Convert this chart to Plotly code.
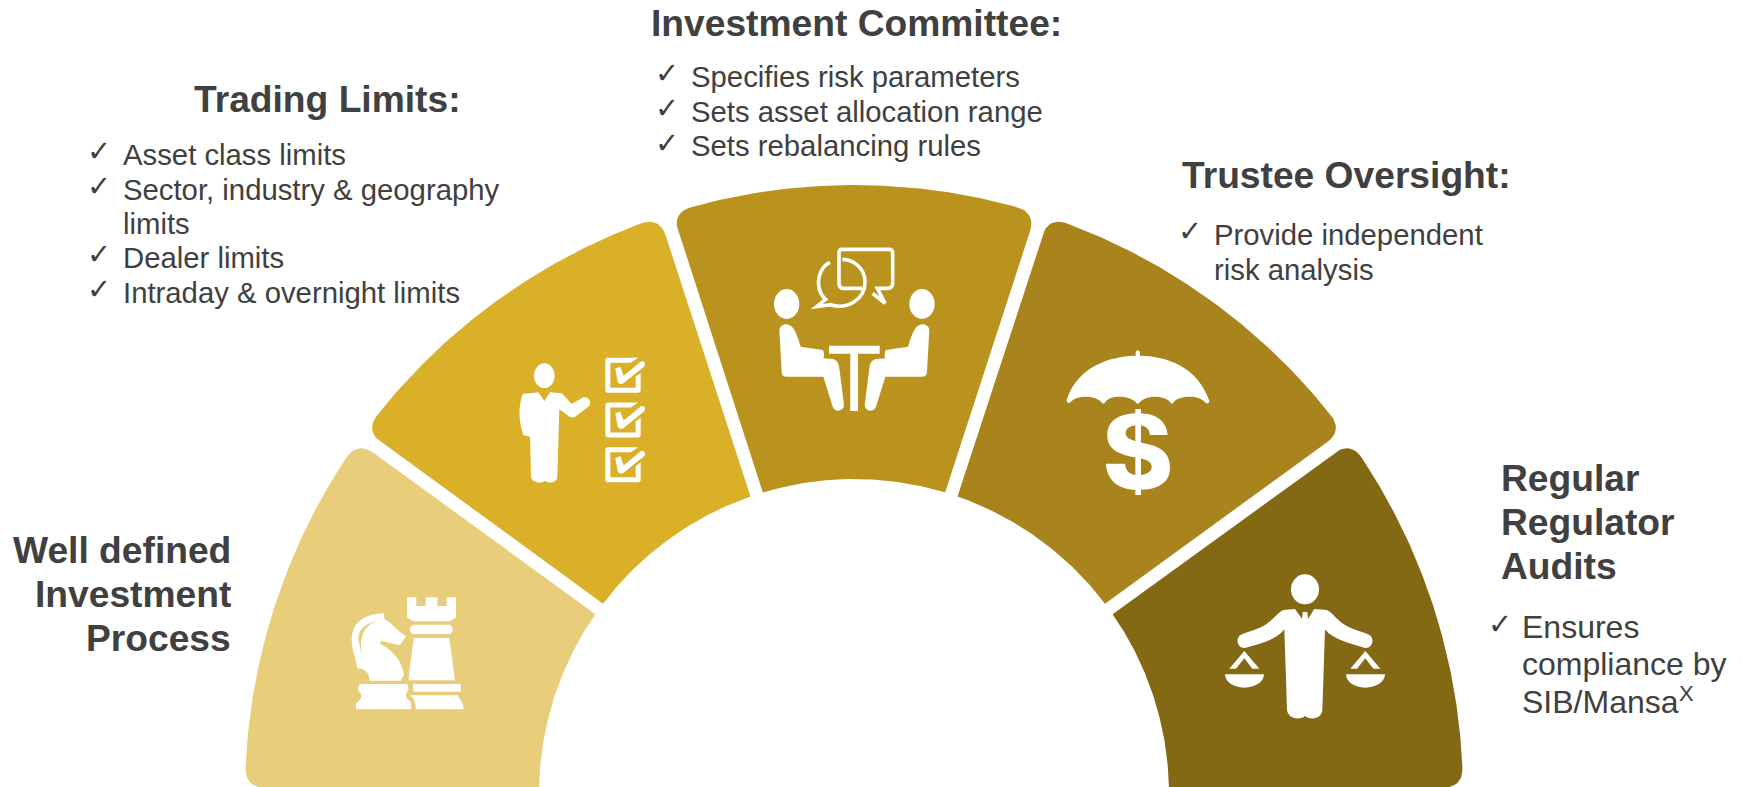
import math, re
import plotly.graph_objects as go

# ---- content -------------------------------------------------------------
categories = ["Well defined Investment Process", "Trading Limits", "Investment Committee",
              "Trustee Oversight", "Regular Regulator Audits"]
segment_shares = [1, 1, 1, 1, 1]
segment_colors = ["#E8CD7A", "#DAB028", "#B9931E", "#A9841D", "#846915"]

titles = ["Investment Committee:", "Trading Limits:", "Trustee Oversight:",
          "Regular", "Regulator", "Audits", "Well defined", "Investment", "Process"]
bullets = ["Specifies risk parameters", "Sets asset allocation range", "Sets rebalancing rules",
           "Asset class limits", "Sector, industry & geography", "limits", "Dealer limits",
           "Intraday & overnight limits", "Provide independent", "risk analysis"]
audit_bullets = ["Ensures", "compliance by", "SIB/Mansa"]
audit_note = "X"
check_mark = "✓"

# ---- layout of texts (separate from the content) --------------------------
title_pos = [(650, 23, "left"), (193, 99, "left"), (1181, 175, "left"),
             (1500, 478, "left"), (1500, 522, "left"), (1500, 566, "left"),
             (232, 550, "right"), (232, 594, "right"), (232, 638, "right")]
bullet_pos = [(690, 76), (690, 111), (690, 145),
              (122, 154), (122, 189), (122, 223), (122, 257), (122, 292),
              (1213, 234), (1213, 269)]
audit_pos = [(1521, 627), (1521, 664), (1521, 702)]
note_pos = (1678, 693)
check_pos = [(654, 73), (654, 108), (654, 143),
             (86, 151), (86, 186), (86, 254), (86, 289),
             (1177, 231), (1487, 624)]

TEXT = "#404040"
CX, CY, R_OUT, R_IN, GAP, CORNER = 854, 794, 609, 315, 6.5, 20


def segment_outline(a_left, a_right):
    da_out = math.degrees(math.asin(GAP / R_OUT))
    da_in = math.degrees(math.asin(GAP / R_IN))
    dc = math.degrees(CORNER / R_OUT)
    def pol(r, a):
        return CX + r * math.cos(math.radians(a)), CY - r * math.sin(math.radians(a))
    def quad(p0, c, p1, n=12):
        return [((1-t)**2*p0[0] + 2*t*(1-t)*c[0] + t*t*p1[0],
                 (1-t)**2*p0[1] + 2*t*(1-t)*c[1] + t*t*p1[1]) for t in (i/n for i in range(n+1))]
    aL, aR = a_left - da_out, a_right + da_out
    pts = [pol(R_IN, a_left - da_in)]
    edge_l = pol(R_OUT - CORNER, a_left - math.degrees(math.asin(GAP / (R_OUT - CORNER))))
    pts += quad(edge_l, pol(R_OUT, aL), pol(R_OUT, aL - dc))
    n = 80
    pts += [pol(R_OUT, aL - dc + (aR + dc - aL + dc) * i / n) for i in range(n + 1)]
    edge_r = pol(R_OUT - CORNER, a_right + math.degrees(math.asin(GAP / (R_OUT - CORNER))))
    pts += quad(pol(R_OUT, aR + dc), pol(R_OUT, aR), edge_r)
    pts.append(pol(R_IN, a_right + da_in))
    pts += [pol(R_IN, a_right + da_in + (a_left - da_in - a_right - da_in) * i / n) for i in range(n + 1)]
    return pts


fig = go.Figure()
total = sum(segment_shares)
a = 180.0
for name, share, color in zip(categories, segment_shares, segment_colors):
    a2 = a - 180.0 * share / total
    p = segment_outline(a, a2)
    fig.add_trace(go.Scatter(x=[q[0] for q in p], y=[q[1] for q in p], mode="lines", fill="toself",
                             fillcolor=color, line=dict(width=0, color=color), name=name,
                             hoverinfo="name", showlegend=False))
    a = a2


# ---- icons: paths traced in 3x crop coordinates, mapped to the page ---------
def tr(path, ox, oy, mirror=None, dx=0, dy=0):
    nums = iter(range(10**6))
    def f(m):
        i = next(nums)
        v = float(m.group())
        if i % 2 == 0:
            if mirror is not None:
                v = mirror - v
            return f"{ox + (v + dx) / 3:.2f}"
        return f"{oy + (v + dy) / 3:.2f}"
    return re.sub(r"-?\d+\.?\d*", f, path)


shapes = []
def solid(path, ox, oy, **kw):
    shapes.append(dict(type="path", path=tr(path, ox, oy, **kw), xref="x", yref="y",
                       fillcolor="white", line=dict(width=0), layer="above"))
def stroke(path, ox, oy, w=3.6):
    shapes.append(dict(type="path", path=tr(path, ox, oy), xref="x", yref="y",
                       fillcolor="rgba(0,0,0,0)", line=dict(width=w, color="white"), layer="above"))
def blob(cx, cy, rx, ry, ox, oy):
    shapes.append(dict(type="circle", xref="x", yref="y", x0=ox + (cx - rx) / 3, x1=ox + (cx + rx) / 3,
                       y0=oy + (cy - ry) / 3, y1=oy + (cy + ry) / 3, fillcolor="white",
                       line=dict(width=0), layer="above"))

# chess pieces
O = (220, 420)
solid("M 412 745 C 410 720 395 690 395 660 C 395 610 430 582 492 580 L 493 598 C 515 605 525 630 558 648 "
      "L 540 676 L 482 662 L 482 672 C 525 695 545 725 552 765 L 542 782 L 448 782 C 450 760 435 745 412 745 Z "
      "M 470 603 C 430 610 410 640 416 660 L 428 722 C 422 680 412 625 470 603 Z", *O)
solid("M 418 792 L 562 792 L 566 810 C 555 820 555 832 566 840 C 574 845 574 860 574 868 L 408 868 L 408 852 "
      "C 410 845 424 840 424 828 C 424 818 414 818 414 805 Z", *O)
solid("M 561 532 L 589 532 L 589 558 L 617 558 L 617 532 L 652 532 L 652 558 L 680 558 L 680 532 L 708 532 "
      "L 708 592 L 690 604 L 580 604 L 561 592 Z", *O)
solid("M 582 614 L 686 614 C 702 614 702 642 686 642 L 582 642 C 566 642 566 614 582 614 Z", *O)
solid("M 581 654 L 688 654 L 705 781 L 565 781 Z", *O)
solid("M 578 792 L 722 792 L 722 815 L 581 815 Z", *O)
solid("M 570 826 L 714 826 C 716 840 730 840 731 868 L 587 868 C 587 850 585 835 570 826 Z", *O)

# presenter with check boxes
O = (480, 200)
blob(193, 527, 31, 37, *O)
solid("M 128 582 L 175 577 L 193 603 L 210 577 L 245 580 L 275 612 L 310 592 C 325 588 335 605 328 618 "
      "L 285 650 C 275 655 265 650 262 645 L 238 628 L 232 830 C 232 848 205 852 195 842 "
      "C 185 852 155 848 153 830 L 150 710 L 130 705 C 115 660 115 620 128 582 Z", *O)
for off in (0, 134.5, 269):
    solid("M 381 473 L 475 473 L 452 488 L 391 488 L 391 563 L 467 563 L 467 530 L 482 518 L 482 573 "
          "L 477 578 L 381 578 L 376 573 L 376 478 Z", *O, dy=off)
    solid("M 406 505 L 421 500 L 431 527 L 482 485 C 492 480 500 492 492 500 L 430 550 "
          "C 422 555 415 550 413 545 Z", *O, dy=off)

# meeting
blob(920, 312, 38, 45, *O)
blob(1326, 312, 38, 45, *O)
body = ("M 898 390 C 900 372 925 365 940 385 C 950 400 955 420 962 440 L 1028 450 C 1033 455 1033 470 1030 475 "
        "L 1060 477 C 1072 482 1076 490 1078 505 L 1092 615 C 1090 635 1065 638 1058 620 L 1030 530 L 920 530 "
        "C 910 530 905 525 905 515 Z")
solid(body, *O)
solid(body, *O, mirror=2246)
solid("M 1047 437 L 1199 437 L 1199 461 L 1134 461 L 1134 633 L 1111 633 L 1111 461 L 1047 461 Z", *O)
stroke("M 1178 280 L 1215 310 L 1192 265 L 1222 265 C 1232 265 1238 260 1238 250 L 1238 160 C 1238 152 1235 148 1228 148 "
       "L 1086 148 C 1080 148 1077 152 1077 160 L 1077 250 C 1077 260 1082 265 1090 265 L 1146 265", *O)
stroke("M 1050 187 C 1020 200 1012 240 1017 262 C 1020 280 1030 292 1037 298 L 1010 320 L 1052 314 "
       "C 1100 330 1155 300 1155 245 C 1155 205 1120 178 1087 178", *O)

# umbrella and dollar
O = (950, 320)
solid("M 350 240 C 375 160 450 110 557 107 L 557 97 C 557 90 570 90 570 97 L 570 107 C 680 110 750 160 778 243 "
      "C 778 250 770 253 765 247 C 750 225 690 225 672 245 C 668 252 662 252 660 245 C 640 225 590 225 570 246 "
      "C 566 252 560 252 557 246 C 535 225 480 225 466 246 C 462 252 456 252 454 246 C 435 225 380 225 362 246 "
      "C 358 252 350 250 350 240 Z", *O)
solid("M 653 345 L 600 345 C 598 325 585 316 565 316 C 540 316 527 325 527 340 C 527 355 545 362 575 368 "
      "C 630 378 660 395 660 445 C 660 490 620 510 565 510 C 505 510 470 480 468 431 L 525 431 "
      "C 528 455 540 465 565 465 C 590 465 605 455 605 440 C 605 425 590 418 555 412 "
      "C 500 402 472 385 472 345 C 472 300 510 280 565 280 C 620 280 650 305 653 345 Z", *O)
solid("M 556 267 L 573 267 L 573 525 L 556 525 Z", *O)

# man with scales
blob(1065, 808, 42, 45, *O)
solid("M 1035 867 L 1056 897 L 1058 876 L 1072 876 L 1074 897 L 1093 867 L 1130 870 C 1145 875 1160 900 1185 915 "
      "C 1210 930 1240 935 1258 945 C 1275 955 1268 985 1245 984 C 1200 970 1150 960 1125 928 L 1117 1170 "
      "C 1115 1200 1075 1200 1065 1187 C 1055 1200 1015 1200 1011 1170 L 1003 928 C 980 960 930 970 885 984 "
      "C 862 985 855 955 872 945 C 890 935 920 930 945 915 C 970 900 985 875 1000 870 Z", *O)
for off in (0, 363):
    solid("M 825 1063 L 942 1063 C 942 1085 915 1103 883 1103 C 850 1103 825 1085 825 1063 Z", *O, dx=off)
    solid("M 883 993 L 928 1046 L 907 1046 L 883 1015 L 858 1046 L 838 1046 Z", *O, dx=off)

# ---- texts -------------------------------------------------------------------
ann = []
def label(text, x, y, size, bold=False, anchor="left", family="Liberation Sans"):
    ann.append(dict(text=f"<b>{text}</b>" if bold else text, x=x, y=y, xref="x", yref="y", showarrow=False,
                    xanchor=anchor, yanchor="middle", align=anchor, borderpad=0,
                    font=dict(family=family, size=size, color=TEXT)))

for t, (x, y, anc) in zip(titles, title_pos):
    label(t, x, y, 37.2, True, anc)
for t, (x, y) in zip(bullets, bullet_pos):
    label(t, x, y, 29.3)
for t, (x, y) in zip(audit_bullets, audit_pos):
    label(t, x, y, 32)
label(audit_note, note_pos[0], note_pos[1], 22)
for x, y in check_pos:
    label(check_mark, x, y, 29, family="DejaVu Sans")

fig.update_layout(width=1743, height=787, margin=dict(l=0, r=0, t=0, b=0), paper_bgcolor="white",
                  plot_bgcolor="white", shapes=shapes, annotations=ann, showlegend=False,
                  xaxis=dict(range=[0, 1743], visible=False, fixedrange=True),
                  yaxis=dict(range=[787, 0], visible=False, fixedrange=True))
fig.write_html("out.html", config=dict(displayModeBar=False),
               post_script="document.body.style.margin='0';document.body.style.overflow='hidden';")
